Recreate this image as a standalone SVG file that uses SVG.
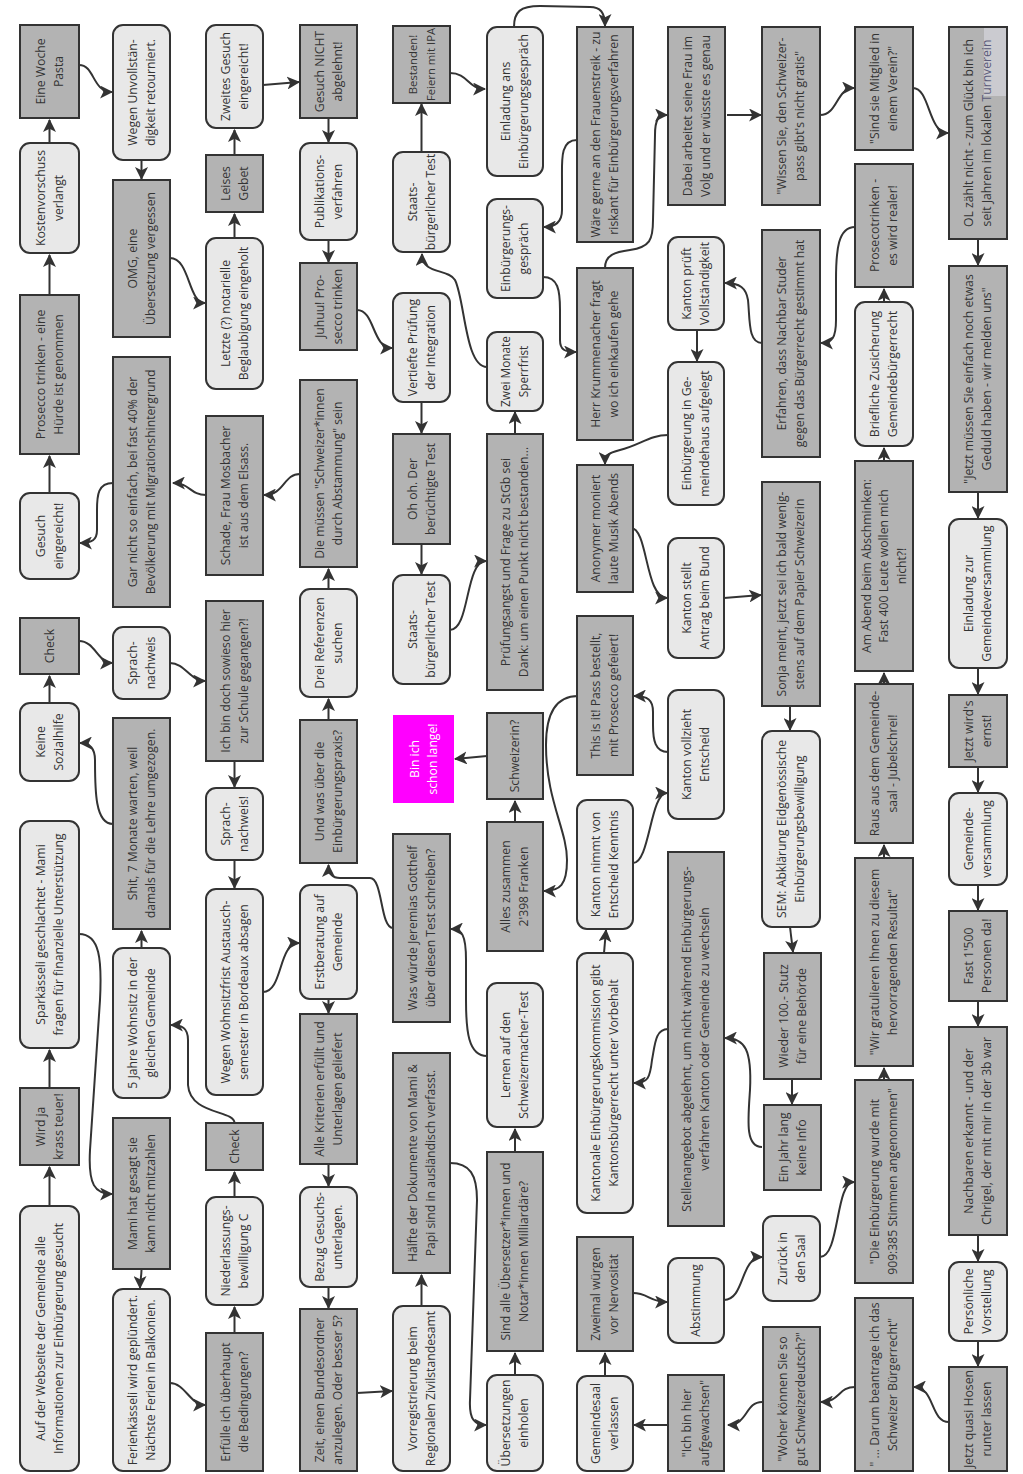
<svg xmlns="http://www.w3.org/2000/svg" width="1023" height="1474" viewBox="0 0 1023 1474">
<style>
.g{fill:#b3b3b3;stroke:#333;stroke-width:2}
.l{fill:#e8e8e8;stroke:#333;stroke-width:2}
.m{fill:#ff00ff}
text{font-family:"Open Sans","Noto Sans","DejaVu Sans",sans-serif;font-size:12.2px;fill:#333;text-anchor:middle}
.w{fill:#fff}
.s{font-size:11.3px}
.s2{font-size:11.8px}
.c path{fill:none;stroke:#333;stroke-width:2;marker-end:url(#a)}
</style>
<defs>
<marker id="a" viewBox="0 0 12 12" refX="11" refY="6" markerWidth="13" markerHeight="13" markerUnits="userSpaceOnUse" orient="auto"><path d="M0,0 L12,6 L0,12 L3,6 z" fill="#333"/></marker>
</defs>
<rect width="1023" height="1474" fill="#fff"/>
<g id="connectors" class="c">
<path d="M49.5 1206 L49.5 1167"/>
<path d="M49.5 1088 L49.5 1050"/>
<path d="M79 934 C100 934 102 960 100 1000 L90 1150 C88 1185 95 1194 112 1194"/>
<path d="M141.5 1269 C141.5 1278 140 1280 140 1288"/>
<path d="M170 1383 C185 1383 190 1405 205 1405"/>
<path d="M234.5 1333 L234.5 1307"/>
<path d="M234.5 1197 L234.5 1172"/>
<path d="M234.5 1123 C234.5 1110 190 1115 188 1085 L188 1040 C188 1028 182 1025 171 1025"/>
<path d="M141.5 948 L141.5 931"/>
<path d="M113 824 C95 824 95 790 95 760 C95 748 90 743 80 743"/>
<path d="M49.5 703 L49.5 676"/>
<path d="M79 641 C95 641 98 663 112 663"/>
<path d="M170 663 C185 663 190 681 205 681"/>
<path d="M234.5 761 L234.5 787"/>
<path d="M234.5 860 L234.5 888"/>
<path d="M263 992 C283 992 278 943 299 943"/>
<path d="M328.5 999 L328.5 1013"/>
<path d="M328.5 1164 L328.5 1186"/>
<path d="M328.5 1287 L328.5 1308"/>
<path d="M357 1393 L392 1391"/>
<path d="M421.5 1306 L421.5 1275"/>
<path d="M450 1163 C470 1163 477 1175 477 1200 L470 1400 C469 1420 475 1425 486 1425"/>
<path d="M515 1375 L515 1353"/>
<path d="M515 1152 L515 1129"/>
<path d="M487 1056 C468 1056 466 1030 466 1000 L466 960 C466 935 462 929 451 929"/>
<path d="M393 928 C380 928 383 878 370 878 L340 878 C332 878 328.5 874 328.5 865"/>
<path d="M328.5 720 L328.5 699"/>
<path d="M328.5 589 L328.5 569"/>
<path d="M300 474 C283 474 285 495 264 495"/>
<path d="M206 495 C190 495 190 483 173 483"/>
<path d="M113 483 C98 483 97 495 97 510 L97 530 C97 540 92 543 80 543"/>
<path d="M49.5 493 L49.5 456"/>
<path d="M49.5 295 L49.5 255"/>
<path d="M49.5 143 L49.5 120"/>
<path d="M79 65 C95 65 92 92 112 92"/>
<path d="M141.5 160 L141.5 179"/>
<path d="M170 258 C190 258 188 303 205 303"/>
<path d="M234.5 238 L234.5 214"/>
<path d="M234.5 155 L234.5 130"/>
<path d="M263 85 L299 82"/>
<path d="M328.5 118 L328.5 142"/>
<path d="M328.5 240 L328.5 262"/>
<path d="M357 310 C375 310 372 348 392 348"/>
<path d="M421.5 402 L421.5 433"/>
<path d="M421.5 544 L421.5 574"/>
<path d="M450 630 C470 630 465 561 486 561"/>
<path d="M515 434 L515 412"/>
<path d="M487 367 C465 367 465 300 455 280 C448 268 422 275 422 254"/>
<path d="M421.5 152 L421.5 104"/>
<path d="M450 73 C468 73 468 89 485 89"/>
<path d="M514 27 C514 12 520 6 540 6 L590 7 C600 7 605 12 605 26"/>
<path d="M577 140 C560 140 562 160 562 180 L562 210 C562 222 555 227 544 227"/>
<path d="M543 277 C558 277 560 290 560 310 L560 340 C560 350 565 352 576 352"/>
<path d="M605 268 C605 255 615 252 630 250 C650 247 653 240 653 220 L655 135 C655 120 658 115 667 115"/>
<path d="M727 115 L761 115"/>
<path d="M820 115 C838 115 836 88 854 88"/>
<path d="M913 88 C930 88 928 133 948 133"/>
<path d="M978 239 L978 265"/>
<path d="M978 492 L978 518"/>
<path d="M978 668 L978 694"/>
<path d="M978 767 L978 792"/>
<path d="M978 885 L978 910"/>
<path d="M978 1001 L978 1026"/>
<path d="M978 1235 L978 1261"/>
<path d="M978 1341 L978 1366"/>
<path d="M949 1422 C930 1422 935 1387 914 1387"/>
<path d="M855 1387 C838 1387 840 1402 821 1402"/>
<path d="M762 1402 C745 1402 748 1425 728 1425"/>
<path d="M668 1425 L634 1425"/>
<path d="M605 1376 L605 1353"/>
<path d="M633 1293 C648 1293 650 1302 667 1302"/>
<path d="M724 1300 C745 1300 740 1257 762 1257"/>
<path d="M820 1257 C840 1257 835 1182 854 1182"/>
<path d="M884 1080 L884 1068"/>
<path d="M884 858 L884 845"/>
<path d="M884 684 L884 673"/>
<path d="M884 461 L884 448"/>
<path d="M884 302 L884 289"/>
<path d="M855 227 C838 227 836 250 836 280 L836 320 C836 338 832 343 821 343"/>
<path d="M762 343 C748 343 750 320 748 300 C746 288 740 283 725 283"/>
<path d="M697 330 L697 361"/>
<path d="M668 435 C650 435 640 445 620 450 C608 453 605 455 605 464"/>
<path d="M631 528 C648 528 645 598 667 598"/>
<path d="M724 598 L761 595"/>
<path d="M790 706 L790 730"/>
<path d="M790 927 L793 952"/>
<path d="M792 1079 L792 1104"/>
<path d="M762 1147 C745 1147 748 1120 750 1090 C752 1050 745 1038 725 1038"/>
<path d="M668 1029 C655 1029 655 1045 652 1060 C650 1078 648 1083 634 1083"/>
<path d="M604 953 L606 930"/>
<path d="M633 863 C650 863 650 793 667 793"/>
<path d="M668 752 C655 752 653 740 653 725 L653 712 C653 700 648 696 634 696"/>
<path d="M578 696 C555 696 546 715 546 745 C546 800 567 830 567 860 C567 885 560 891 544 891"/>
<path d="M515 822 L515 801"/>
<path d="M487 756 L455 759"/>
</g>
<g id="n1"><rect class="g" x="20" y="25" width="59" height="93"/><text transform="translate(49.5 71.5) rotate(-90)"><tspan x="0" y="-5">Eine Woche</tspan><tspan x="0" y="13">Pasta</tspan></text></g>
<g id="n2"><rect class="l" x="20" y="143" width="59" height="110" rx="10"/><text transform="translate(49.5 198) rotate(-90)"><tspan x="0" y="-5">Kostenvorschuss</tspan><tspan x="0" y="13">verlangt</tspan></text></g>
<g id="n3"><rect class="g" x="20" y="295" width="59" height="159"/><text transform="translate(49.5 374.5) rotate(-90)"><tspan x="0" y="-5">Prosecco trinken - eine</tspan><tspan x="0" y="13">Hürde ist genommen</tspan></text></g>
<g id="n4"><rect class="l" x="20" y="493" width="59" height="86" rx="10"/><text transform="translate(49.5 536) rotate(-90)"><tspan x="0" y="-5">Gesuch</tspan><tspan x="0" y="13">eingereicht!</tspan></text></g>
<g id="n5"><rect class="g" x="20" y="618" width="59" height="56"/><text transform="translate(49.5 646) rotate(-90)"><tspan x="0" y="4">Check</tspan></text></g>
<g id="n6"><rect class="l" x="20" y="703" width="59" height="78" rx="10"/><text transform="translate(49.5 742) rotate(-90)"><tspan x="0" y="-5">Keine</tspan><tspan x="0" y="13">Sozialhilfe</tspan></text></g>
<g id="n7"><rect class="l" x="20" y="821" width="59" height="227" rx="10"/><text transform="translate(49.5 934.5) rotate(-90)"><tspan x="0" y="-5">Sparkässeli geschlachtet - Mami</tspan><tspan x="0" y="13">fragen für finanzielle Unterstützung</tspan></text></g>
<g id="n8"><rect class="g" x="20" y="1088" width="59" height="77"/><text transform="translate(49.5 1126.5) rotate(-90)"><tspan x="0" y="-5">Wird ja</tspan><tspan x="0" y="13">krass teuer!</tspan></text></g>
<g id="n9"><rect class="l" x="20" y="1206" width="59" height="265" rx="10"/><text transform="translate(49.5 1338.5) rotate(-90)"><tspan x="0" y="-5">Auf der Webseite der Gemeinde alle</tspan><tspan x="0" y="13">Informationen zur Einbürgerung gesucht</tspan></text></g>
<g id="n10"><rect class="l" x="113" y="25" width="57" height="135" rx="10"/><text transform="translate(141.5 92.5) rotate(-90)"><tspan x="0" y="-5">Wegen Unvollstän-</tspan><tspan x="0" y="13">digkeit retourniert.</tspan></text></g>
<g id="n11"><rect class="g" x="113" y="180" width="57" height="157"/><text transform="translate(141.5 258.5) rotate(-90)"><tspan x="0" y="-5">OMG, eine</tspan><tspan x="0" y="13">Übersetzung vergessen</tspan></text></g>
<g id="n12"><rect class="g" x="113" y="357" width="57" height="250"/><text transform="translate(141.5 482) rotate(-90)"><tspan x="0" y="-5">Gar nicht so einfach, bei fast 40% der</tspan><tspan x="0" y="13">Bevölkerung mit Migrationshintergrund</tspan></text></g>
<g id="n13"><rect class="l" x="113" y="627" width="57" height="72" rx="10"/><text transform="translate(141.5 663) rotate(-90)"><tspan x="0" y="-5">Sprach-</tspan><tspan x="0" y="13">nachweis</tspan></text></g>
<g id="n14"><rect class="g" x="113" y="718" width="57" height="211"/><text transform="translate(141.5 823.5) rotate(-90)"><tspan x="0" y="-5">Shit, 7 Monate warten, weil</tspan><tspan x="0" y="13">damals für die Lehre umgezogen.</tspan></text></g>
<g id="n15"><rect class="l" x="113" y="948" width="57" height="150" rx="10"/><text transform="translate(141.5 1023) rotate(-90)"><tspan x="0" y="-5">5 Jahre Wohnsitz in der</tspan><tspan x="0" y="13">gleichen Gemeinde</tspan></text></g>
<g id="n16"><rect class="g" x="113" y="1118" width="57" height="151"/><text transform="translate(141.5 1193.5) rotate(-90)"><tspan x="0" y="-5">Mami hat gesagt sie</tspan><tspan x="0" y="13">kann nicht mitzahlen</tspan></text></g>
<g id="n17"><rect class="l" x="113" y="1289" width="57" height="182" rx="10"/><text transform="translate(141.5 1380) rotate(-90)"><tspan x="0" y="-5">Ferienkässeli wird geplündert.</tspan><tspan x="0" y="13">Nächste Ferien in Balkonien.</tspan></text></g>
<g id="n18"><rect class="l" x="206" y="25" width="57" height="103" rx="10"/><text transform="translate(234.5 76.5) rotate(-90)"><tspan x="0" y="-5">Zweites Gesuch</tspan><tspan x="0" y="13">eingereicht!</tspan></text></g>
<g id="n19"><rect class="g" x="206" y="155" width="57" height="57"/><text transform="translate(234.5 183.5) rotate(-90)"><tspan x="0" y="-5">Leises</tspan><tspan x="0" y="13">Gebet</tspan></text></g>
<g id="n20"><rect class="l" x="206" y="238" width="57" height="151" rx="10"/><text transform="translate(234.5 313.5) rotate(-90)"><tspan x="0" y="-5">Letzte (?) notarielle</tspan><tspan x="0" y="13">Beglaubigung eingeholt</tspan></text></g>
<g id="n21"><rect class="g" x="206" y="416" width="57" height="159"/><text transform="translate(234.5 495.5) rotate(-90)"><tspan x="0" y="-5">Schade, Frau Mosbacher</tspan><tspan x="0" y="13">ist aus dem Elsass.</tspan></text></g>
<g id="n22"><rect class="g" x="206" y="601" width="57" height="160"/><text transform="translate(234.5 681) rotate(-90)"><tspan x="0" y="-5">Ich bin doch sowieso hier</tspan><tspan x="0" y="13">zur Schule gegangen?!</tspan></text></g>
<g id="n23"><rect class="l" x="206" y="788" width="57" height="72" rx="10"/><text transform="translate(234.5 824) rotate(-90)"><tspan x="0" y="-5">Sprach-</tspan><tspan x="0" y="13">nachweis!</tspan></text></g>
<g id="n24"><rect class="l" x="206" y="889" width="57" height="206" rx="10"/><text transform="translate(234.5 992) rotate(-90)"><tspan x="0" y="-5">Wegen Wohnsitzfrist Austausch-</tspan><tspan x="0" y="13">semester in Bordeaux absagen</tspan></text></g>
<g id="n25"><rect class="g" x="206" y="1123" width="57" height="47"/><text transform="translate(234.5 1146.5) rotate(-90)"><tspan x="0" y="4">Check</tspan></text></g>
<g id="n26"><rect class="l" x="206" y="1197" width="57" height="108" rx="10"/><text transform="translate(234.5 1251) rotate(-90)"><tspan x="0" y="-5">Niederlassungs-</tspan><tspan x="0" y="13">bewilligung C</tspan></text></g>
<g id="n27"><rect class="g" x="206" y="1333" width="57" height="138"/><text transform="translate(234.5 1402) rotate(-90)"><tspan x="0" y="-5">Erfülle ich überhaupt</tspan><tspan x="0" y="13">die Bedingungen?</tspan></text></g>
<g id="n28"><rect class="g" x="300" y="25" width="57" height="93"/><text transform="translate(328.5 71.5) rotate(-90)"><tspan x="0" y="-5">Gesuch NICHT</tspan><tspan x="0" y="13">abgelehnt!</tspan></text></g>
<g id="n29"><rect class="l" x="300" y="143" width="57" height="97" rx="10"/><text transform="translate(328.5 191.5) rotate(-90)"><tspan x="0" y="-5">Publikations-</tspan><tspan x="0" y="13">verfahren</tspan></text></g>
<g id="n30"><rect class="g" x="300" y="263" width="57" height="87"/><text transform="translate(328.5 306.5) rotate(-90)"><tspan x="0" y="-5">Juhuu! Pro-</tspan><tspan x="0" y="13">secco trinken</tspan></text></g>
<g id="n31"><rect class="g" x="300" y="380" width="57" height="187"/><text transform="translate(328.5 473.5) rotate(-90)"><tspan x="0" y="-5">Die müssen "Schweizer*innen</tspan><tspan x="0" y="13">durch Abstammung" sein</tspan></text></g>
<g id="n32"><rect class="l" x="300" y="589" width="57" height="108" rx="10"/><text transform="translate(328.5 643) rotate(-90)"><tspan x="0" y="-5">Drei Referenzen</tspan><tspan x="0" y="13">suchen</tspan></text></g>
<g id="n33"><rect class="g" x="300" y="720" width="57" height="143"/><text transform="translate(328.5 791.5) rotate(-90)"><tspan x="0" y="-5">Und was über die</tspan><tspan x="0" y="13">Einbürgerungspraxis?</tspan></text></g>
<g id="n34"><rect class="l" x="300" y="885" width="57" height="114" rx="10"/><text transform="translate(328.5 942) rotate(-90)"><tspan x="0" y="-5">Erstberatung auf</tspan><tspan x="0" y="13">Gemeinde</tspan></text></g>
<g id="n35"><rect class="g" x="300" y="1014" width="57" height="150"/><text transform="translate(328.5 1089) rotate(-90)"><tspan x="0" y="-5">Alle Kriterien erfüllt und</tspan><tspan x="0" y="13">Unterlagen geliefert</tspan></text></g>
<g id="n36"><rect class="l" x="300" y="1187" width="57" height="100" rx="10"/><text transform="translate(328.5 1237) rotate(-90)"><tspan x="0" y="-5">Bezug Gesuchs-</tspan><tspan x="0" y="13">unterlagen.</tspan></text></g>
<g id="n37"><rect class="g" x="300" y="1309" width="57" height="162"/><text transform="translate(328.5 1390) rotate(-90)"><tspan x="0" y="-5">Zeit, einen Bundesordner</tspan><tspan x="0" y="13">anzulegen. Oder besser 5?</tspan></text></g>
<g id="n38"><rect class="g" x="393" y="26" width="57" height="77"/><text class="s" transform="translate(421.5 64.5) rotate(-90)"><tspan x="0" y="-5">Bestanden!</tspan><tspan x="0" y="13">Feiern mit IPA</tspan></text></g>
<g id="n39"><rect class="l" x="393" y="152" width="57" height="100" rx="10"/><text transform="translate(421.5 202) rotate(-90)"><tspan x="0" y="-5">Staats-</tspan><tspan x="0" y="13">bürgerlicher Test</tspan></text></g>
<g id="n40"><rect class="l" x="393" y="293" width="57" height="109" rx="10"/><text transform="translate(421.5 347.5) rotate(-90)"><tspan x="0" y="-5">Vertiefte Prüfung</tspan><tspan x="0" y="13">der Integration</tspan></text></g>
<g id="n41"><rect class="g" x="393" y="434" width="57" height="110"/><text transform="translate(421.5 489) rotate(-90)"><tspan x="0" y="-5">Oh oh. Der</tspan><tspan x="0" y="13">berüchtigte Test</tspan></text></g>
<g id="n42"><rect class="l" x="393" y="575" width="57" height="109" rx="10"/><text transform="translate(421.5 629.5) rotate(-90)"><tspan x="0" y="-5">Staats-</tspan><tspan x="0" y="13">bürgerlicher Test</tspan></text></g>
<g id="n43"><rect class="m" x="393" y="715" width="61" height="88"/><text class="w" transform="translate(423.5 759) rotate(-90)"><tspan x="0" y="-5">Bin ich</tspan><tspan x="0" y="13">schon lange!</tspan></text></g>
<g id="n44"><rect class="g" x="393" y="834" width="57" height="188"/><text transform="translate(421.5 928) rotate(-90)"><tspan x="0" y="-5">Was würde Jeremias Gotthelf</tspan><tspan x="0" y="13">über diesen Test schreiben?</tspan></text></g>
<g id="n45"><rect class="g" x="393" y="1053" width="57" height="220"/><text transform="translate(421.5 1163) rotate(-90)"><tspan x="0" y="-5">Hälfte der Dokumente von Mami &amp;</tspan><tspan x="0" y="13">Papi sind in ausländisch verfasst.</tspan></text></g>
<g id="n46"><rect class="l" x="393" y="1306" width="57" height="165" rx="10"/><text transform="translate(421.5 1388.5) rotate(-90)"><tspan x="0" y="-5">Vorregistrierung beim</tspan><tspan x="0" y="13">Regionalen Zivilstandesamt</tspan></text></g>
<g id="n47"><rect class="l" x="487" y="27" width="56" height="149" rx="10"/><text transform="translate(515 101.5) rotate(-90)"><tspan x="0" y="-5">Einladung ans</tspan><tspan x="0" y="13">Einbürgerungsgespräch</tspan></text></g>
<g id="n48"><rect class="l" x="487" y="199" width="56" height="99" rx="10"/><text transform="translate(515 248.5) rotate(-90)"><tspan x="0" y="-5">Einbürgerungs-</tspan><tspan x="0" y="13">gespräch</tspan></text></g>
<g id="n49"><rect class="l" x="487" y="332" width="56" height="79" rx="10"/><text class="s2" transform="translate(515 371.5) rotate(-90)"><tspan x="0" y="-5">Zwei Monate</tspan><tspan x="0" y="13">Sperrfrist</tspan></text></g>
<g id="n50"><rect class="g" x="487" y="434" width="56" height="256"/><text transform="translate(515 562) rotate(-90)"><tspan x="0" y="-5">Prüfungsangst und Frage zu StGb sei</tspan><tspan x="0" y="13">Dank: um einen Punkt nicht bestanden...</tspan></text></g>
<g id="n51"><rect class="g" x="487" y="713" width="56" height="86"/><text transform="translate(515 756) rotate(-90)"><tspan x="0" y="4">Schweizerin?</tspan></text></g>
<g id="n52"><rect class="g" x="487" y="822" width="56" height="129"/><text transform="translate(515 886.5) rotate(-90)"><tspan x="0" y="-5">Alles zusammen</tspan><tspan x="0" y="13">2'398 Franken</tspan></text></g>
<g id="n53"><rect class="l" x="487" y="983" width="56" height="144" rx="10"/><text transform="translate(515 1055) rotate(-90)"><tspan x="0" y="-5">Lernen auf den</tspan><tspan x="0" y="13">Schweizermacher-Test</tspan></text></g>
<g id="n54"><rect class="g" x="487" y="1152" width="56" height="199"/><text transform="translate(515 1251.5) rotate(-90)"><tspan x="0" y="-5">Sind alle Übersetzer*innen und</tspan><tspan x="0" y="13">Notar*innen Milliardäre?</tspan></text></g>
<g id="n55"><rect class="l" x="487" y="1375" width="56" height="96" rx="10"/><text transform="translate(515 1423) rotate(-90)"><tspan x="0" y="-5">Übersetzungen</tspan><tspan x="0" y="13">einholen</tspan></text></g>
<g id="n56"><rect class="g" x="577" y="27" width="56" height="215"/><text transform="translate(605 134.5) rotate(-90)"><tspan x="0" y="-5">Wäre gerne an den Frauenstreik - zu</tspan><tspan x="0" y="13">riskant für Einbürgerungsverfahren</tspan></text></g>
<g id="n57"><rect class="g" x="577" y="268" width="56" height="172"/><text transform="translate(605 354) rotate(-90)"><tspan x="0" y="-5">Herr Krummenacher fragt</tspan><tspan x="0" y="13">wo ich einkaufen gehe</tspan></text></g>
<g id="n58"><rect class="g" x="577" y="465" width="56" height="127"/><text transform="translate(605 528.5) rotate(-90)"><tspan x="0" y="-5">Anonymer moniert</tspan><tspan x="0" y="13">laute Musik Abends</tspan></text></g>
<g id="n59"><rect class="g" x="577" y="616" width="56" height="159"/><text transform="translate(605 695.5) rotate(-90)"><tspan x="0" y="-5">This is it! Pass bestellt,</tspan><tspan x="0" y="13">mit Prosecco gefeiert!</tspan></text></g>
<g id="n60"><rect class="l" x="577" y="800" width="56" height="129" rx="10"/><text transform="translate(605 864.5) rotate(-90)"><tspan x="0" y="-5">Kanton nimmt von</tspan><tspan x="0" y="13">Entscheid Kenntnis</tspan></text></g>
<g id="n61"><rect class="l" x="577" y="953" width="56" height="260" rx="10"/><text transform="translate(605 1083) rotate(-90)"><tspan x="0" y="-5">Kantonale Einbürgerungskommission gibt</tspan><tspan x="0" y="13">Kantonsbürgerrecht unter Vorbehalt</tspan></text></g>
<g id="n62"><rect class="g" x="577" y="1237" width="56" height="114"/><text transform="translate(605 1294) rotate(-90)"><tspan x="0" y="-5">Zweimal würgen</tspan><tspan x="0" y="13">vor Nervosität</tspan></text></g>
<g id="n63"><rect class="l" x="577" y="1376" width="56" height="95" rx="10"/><text transform="translate(605 1423.5) rotate(-90)"><tspan x="0" y="-5">Gemeindesaal</tspan><tspan x="0" y="13">verlassen</tspan></text></g>
<g id="n64"><rect class="g" x="668" y="27" width="57" height="178"/><text transform="translate(696.5 116) rotate(-90)"><tspan x="0" y="-5">Dabei arbeitet seine Frau im</tspan><tspan x="0" y="13">Volg und er wüsste es genau</tspan></text></g>
<g id="n65"><rect class="l" x="668" y="237" width="56" height="93" rx="10"/><text transform="translate(696 283.5) rotate(-90)"><tspan x="0" y="-5">Kanton prüft</tspan><tspan x="0" y="13">Vollständigkeit</tspan></text></g>
<g id="n66"><rect class="l" x="668" y="362" width="56" height="143" rx="10"/><text transform="translate(696 433.5) rotate(-90)"><tspan x="0" y="-5">Einbürgerung in Ge-</tspan><tspan x="0" y="13">meindehaus aufgelegt</tspan></text></g>
<g id="n67"><rect class="l" x="668" y="538" width="56" height="120" rx="10"/><text transform="translate(696 598) rotate(-90)"><tspan x="0" y="-5">Kanton stellt</tspan><tspan x="0" y="13">Antrag beim Bund</tspan></text></g>
<g id="n68"><rect class="l" x="668" y="690" width="56" height="129" rx="10"/><text transform="translate(696 754.5) rotate(-90)"><tspan x="0" y="-5">Kanton vollzieht</tspan><tspan x="0" y="13">Entscheid</tspan></text></g>
<g id="n69"><rect class="g" x="668" y="852" width="56" height="374"/><text transform="translate(696 1039) rotate(-90)"><tspan x="0" y="-5">Stellenangebot abgelehnt, um nicht während Einbürgerungs-</tspan><tspan x="0" y="13">verfahren Kanton oder Gemeinde zu wechseln</tspan></text></g>
<g id="n70"><rect class="l" x="668" y="1258" width="56" height="85" rx="10"/><text transform="translate(696 1300.5) rotate(-90)"><tspan x="0" y="4">Abstimmung</tspan></text></g>
<g id="n71"><rect class="g" x="668" y="1375" width="56" height="96"/><text transform="translate(696 1423) rotate(-90)"><tspan x="0" y="-5">"Ich bin hier</tspan><tspan x="0" y="13">aufgewachsen"</tspan></text></g>
<g id="n72"><rect class="g" x="762" y="27" width="58" height="178"/><text transform="translate(791 116) rotate(-90)"><tspan x="0" y="-5">"Wissen Sie, den Schweizer-</tspan><tspan x="0" y="13">pass gibt's nicht gratis"</tspan></text></g>
<g id="n73"><rect class="g" x="762" y="230" width="58" height="227"/><text transform="translate(791 343.5) rotate(-90)"><tspan x="0" y="-5">Erfahren, dass Nachbar Studer</tspan><tspan x="0" y="13">gegen das Bürgerrecht gestimmt hat</tspan></text></g>
<g id="n74"><rect class="g" x="762" y="482" width="58" height="224"/><text transform="translate(791 594) rotate(-90)"><tspan x="0" y="-5">Sonja meint, jetzt sei ich bald wenig-</tspan><tspan x="0" y="13">stens auf dem Papier Schweizerin</tspan></text></g>
<g id="n75"><rect class="l" x="762" y="731" width="58" height="196" rx="10"/><text transform="translate(791 829) rotate(-90)"><tspan x="0" y="-5">SEM: Abklärung Eidgenössische</tspan><tspan x="0" y="13">Einbürgerungsbewilligung</tspan></text></g>
<g id="n76"><rect class="g" x="764" y="953" width="57" height="126"/><text transform="translate(792.5 1016) rotate(-90)"><tspan x="0" y="-5">Wieder 100.- Stutz</tspan><tspan x="0" y="13">für eine Behörde</tspan></text></g>
<g id="n77"><rect class="g" x="764" y="1105" width="57" height="85"/><text transform="translate(792.5 1147.5) rotate(-90)"><tspan x="0" y="-5">Ein Jahr lang</tspan><tspan x="0" y="13">keine Info</tspan></text></g>
<g id="n78"><rect class="l" x="763" y="1216" width="57" height="85" rx="10"/><text transform="translate(791.5 1258.5) rotate(-90)"><tspan x="0" y="-5">Zurück in</tspan><tspan x="0" y="13">den Saal</tspan></text></g>
<g id="n79"><rect class="g" x="763" y="1327" width="57" height="144"/><text transform="translate(791.5 1399) rotate(-90)"><tspan x="0" y="-5">"Woher können Sie so</tspan><tspan x="0" y="13">gut Schweizerdeutsch?"</tspan></text></g>
<g id="n80"><rect class="g" x="855" y="27" width="58" height="123"/><text transform="translate(884 88.5) rotate(-90)"><tspan x="0" y="-5">"Sind sie Mitglied in</tspan><tspan x="0" y="13">einem Verein?"</tspan></text></g>
<g id="n81"><rect class="g" x="855" y="164" width="58" height="123"/><text transform="translate(884 225.5) rotate(-90)"><tspan x="0" y="-5">Prosecotrinken -</tspan><tspan x="0" y="13">es wird realer!</tspan></text></g>
<g id="n82"><rect class="l" x="855" y="302" width="58" height="144" rx="10"/><text transform="translate(884 374) rotate(-90)"><tspan x="0" y="-5">Briefliche Zusicherung</tspan><tspan x="0" y="13">Gemeindebürgerrecht</tspan></text></g>
<g id="n83"><rect class="g" x="855" y="461" width="58" height="210"/><text transform="translate(884 566) rotate(-90)"><tspan x="0" y="-13.5">Am Abend beim Abschminken:</tspan><tspan x="0" y="4">Fast 400 Leute wollen mich</tspan><tspan x="0" y="21.5">nicht?!</tspan></text></g>
<g id="n84"><rect class="g" x="855" y="684" width="58" height="159"/><text transform="translate(884 763.5) rotate(-90)"><tspan x="0" y="-5">Raus aus dem Gemeinde-</tspan><tspan x="0" y="13">saal - Jubelschrei!</tspan></text></g>
<g id="n85"><rect class="g" x="855" y="858" width="58" height="208"/><text transform="translate(884 962) rotate(-90)"><tspan x="0" y="-5">"Wir gratulieren Ihnen zu diesem</tspan><tspan x="0" y="13">hervorragenden Resultat"</tspan></text></g>
<g id="n86"><rect class="g" x="855" y="1080" width="58" height="203"/><text transform="translate(884 1181.5) rotate(-90)"><tspan x="0" y="-5">"Die Einbürgerung wurde mit</tspan><tspan x="0" y="13">909:385 Stimmen angenommen"</tspan></text></g>
<g id="n87"><rect class="g" x="855" y="1298" width="58" height="173"/><text transform="translate(884 1384.5) rotate(-90)"><tspan x="0" y="-5">" ... Darum beantrage ich das</tspan><tspan x="0" y="13">Schweizer Bürgerrecht"</tspan></text></g>
<g id="n88"><rect class="g" x="949" y="27" width="58" height="212"/><rect x="984" y="28" width="22" height="68" fill="#cbcbd0"/><text transform="translate(978 133) rotate(-90)"><tspan x="0" y="-5">OL zählt nicht - zum Glück bin ich</tspan><tspan x="0" y="13">seit Jahren im lokalen <tspan fill="#5c5c7a">Turnverein</tspan></tspan></text></g>
<g id="n89"><rect class="g" x="949" y="266" width="58" height="226"/><text transform="translate(978 379) rotate(-90)"><tspan x="0" y="-5">"Jetzt müssen Sie einfach noch etwas</tspan><tspan x="0" y="13">Geduld haben - wir melden uns"</tspan></text></g>
<g id="n90"><rect class="l" x="949" y="519" width="58" height="149" rx="10"/><text transform="translate(978 593.5) rotate(-90)"><tspan x="0" y="-5">Einladung zur</tspan><tspan x="0" y="13">Gemeindeversammlung</tspan></text></g>
<g id="n91"><rect class="g" x="949" y="695" width="58" height="72"/><text transform="translate(978 731) rotate(-90)"><tspan x="0" y="-5">Jetzt wird's</tspan><tspan x="0" y="13">ernst!</tspan></text></g>
<g id="n92"><rect class="l" x="949" y="793" width="58" height="92" rx="10"/><text transform="translate(978 839) rotate(-90)"><tspan x="0" y="-5">Gemeinde-</tspan><tspan x="0" y="13">versammlung</tspan></text></g>
<g id="n93"><rect class="g" x="949" y="911" width="58" height="90"/><text transform="translate(978 956) rotate(-90)"><tspan x="0" y="-5">Fast 1'500</tspan><tspan x="0" y="13">Personen da!</tspan></text></g>
<g id="n94"><rect class="g" x="949" y="1027" width="58" height="208"/><text transform="translate(978 1131) rotate(-90)"><tspan x="0" y="-5">Nachbaren erkannt - und der</tspan><tspan x="0" y="13">Chrigel, der mit mir in der 3b war</tspan></text></g>
<g id="n95"><rect class="l" x="949" y="1262" width="58" height="79" rx="10"/><text transform="translate(978 1301.5) rotate(-90)"><tspan x="0" y="-5">Persönliche</tspan><tspan x="0" y="13">Vorstellung</tspan></text></g>
<g id="n96"><rect class="g" x="949" y="1367" width="58" height="104"/><text transform="translate(978 1419) rotate(-90)"><tspan x="0" y="-5">Jetzt quasi Hosen</tspan><tspan x="0" y="13">runter lassen</tspan></text></g>
</svg>
